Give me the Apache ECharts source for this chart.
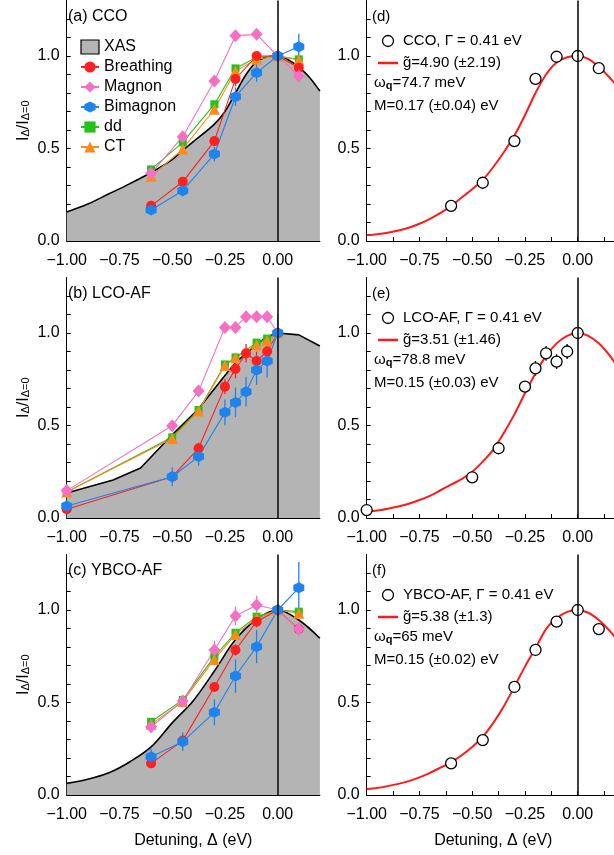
<!DOCTYPE html>
<html><head><meta charset="utf-8">
<script src="https://cdn.jsdelivr.net/npm/echarts@6/dist/echarts.min.js"></script>
<style>html,body{margin:0;padding:0;background:#fff}#c{width:614px;height:855px}</style>
</head><body><div id="c"></div>
<script>
// ================= DATA =================
const xTickValues = [-1, -0.875, -0.75, -0.625, -0.5, -0.375, -0.25, -0.125, 0, 0.125];
const xLabelValues = [-1, -0.75, -0.5, -0.25, 0];
const yTickValues = [0, 0.1, 0.2, 0.3, 0.4, 0.5, 0.6, 0.7, 0.8, 0.9, 1.0, 1.1, 1.2];
const yLabelValues = [0, 0.5, 1.0];
const xTitle = 'Detuning, Δ (eV)';

// (a) CCO
const a_x = [-0.6, -0.45, -0.3, -0.2, -0.1, 0, 0.1];
const a_breathing = [0.19, 0.32, 0.54, 0.876, 1.0, 1.0, 0.937];
const a_breathing_err = [0.02, 0.02, 0.02, 0.04, 0.02, 0, 0.02];
const a_magnon = [0.366, 0.564, 0.865, 1.11, 1.117, 1.0, 0.892];
const a_magnon_err = [0.02, 0.02, 0.02, 0.02, 0.02, 0, 0.02];
const a_bimagnon = [0.168, 0.272, 0.47, 0.78, 0.91, 1.0, 1.05];
const a_bimagnon_err = [0.02, 0.03, 0.04, 0.05, 0.05, 0, 0.07];
const a_dd = [0.387, 0.533, 0.739, 0.933, 0.993, 1.0, 0.982];
const a_ct = [0.35, 0.497, 0.712, 0.919, 0.982, 1.0, 0.978];
const a_xas_x = [-1, -0.9, -0.8, -0.7, -0.6, -0.5, -0.45, -0.4, -0.3, -0.25, -0.2, -0.15, -0.1, -0.05, 0, 0.05, 0.1, 0.15, 0.2];
const a_xas = [0.157, 0.20, 0.255, 0.31, 0.37, 0.44, 0.49, 0.537, 0.632, 0.70, 0.80, 0.90, 0.97, 0.995, 1.0, 0.98, 0.94, 0.885, 0.81];

// (b) LCO-AF
const b_x = [-1, -0.5, -0.375, -0.25, -0.2, -0.15, -0.1, -0.05, 0];
const b_x2 = [-1, -0.5, -0.375, -0.25, -0.2, -0.1, -0.05, 0];
const b_breathing = [0.047, 0.223, 0.377, 0.71, 0.805, 0.89, 0.849, 0.90, 1.0];
const b_breathing_err = [0.01, 0.03, 0.03, 0.04, 0.05, 0.05, 0.05, 0.05, 0];
const b_magnon = [0.148, 0.499, 0.686, 1.03, 1.03, 1.088, 1.088, 1.088, 1.0];
const b_magnon_err = [0.02, 0.02, 0.02, 0.03, 0.03, 0.03, 0.03, 0.03, 0];
const b_bimagnon = [0.065, 0.223, 0.332, 0.571, 0.625, 0.683, 0.80, 0.849, 1.0];
const b_bimagnon_err = [0.02, 0.05, 0.05, 0.07, 0.08, 0.08, 0.08, 0.09, 0.1];
const b_dd = [0.14, 0.436, 0.584, 0.83, 0.868, 0.948, 0.97, 1.0];
const b_ct = [0.14, 0.43, 0.578, 0.825, 0.866, 0.935, 0.958, 1.0];
const b_xas_x = [-1, -0.78, -0.65, -0.5, -0.375, -0.25, -0.2, -0.15, -0.1, -0.05, 0, 0.1, 0.2];
const b_xas = [0.135, 0.205, 0.27, 0.45, 0.59, 0.77, 0.84, 0.89, 0.94, 0.98, 1.0, 0.99, 0.93];

// (c) YBCO-AF
const c_x = [-0.6, -0.45, -0.3, -0.2, -0.1, 0, 0.1];
const c_breathing = [0.171, 0.294, 0.584, 0.784, 0.937, 1.0, 0.897];
const c_breathing_err = [0.02, 0.02, 0.02, 0.03, 0.03, 0, 0.02];
const c_magnon = [0.369, 0.508, 0.784, 0.968, 1.027, 1.0, 0.897];
const c_magnon_err = [0.03, 0.03, 0.05, 0.05, 0.05, 0, 0.04];
const c_bimagnon = [0.207, 0.288, 0.447, 0.643, 0.802, 1.0, 1.12];
const c_bimagnon_err = [0.04, 0.05, 0.07, 0.09, 0.09, 0, 0.14];
const c_dd = [0.396, 0.514, 0.748, 0.877, 0.964, 1.0, 0.991];
const c_ct = [0.382, 0.506, 0.733, 0.868, 0.955, 1.0, 0.982];
const c_xas_x = [-1, -0.9, -0.8, -0.7, -0.6, -0.5, -0.4, -0.3, -0.2, -0.1, 0, 0.1, 0.2];
const c_xas = [0.063, 0.085, 0.12, 0.18, 0.26, 0.39, 0.51, 0.67, 0.84, 0.95, 1.0, 0.946, 0.847];

// (d)(e)(f) fitted curves, read every 0.05 eV
const fit_x = [-1, -0.95, -0.9, -0.85, -0.8, -0.75, -0.7, -0.65, -0.6, -0.55, -0.5, -0.45, -0.4, -0.35, -0.3, -0.25, -0.2, -0.15, -0.1, -0.05, 0, 0.05, 0.1, 0.15, 0.2];
const d_fit = [0.032, 0.037, 0.045, 0.057, 0.072, 0.093, 0.12, 0.152, 0.19, 0.235, 0.28, 0.33, 0.40, 0.48, 0.57, 0.68, 0.80, 0.90, 0.965, 0.993, 1.0, 0.985, 0.942, 0.885, 0.82];
const e_fit = [0.034, 0.04, 0.05, 0.062, 0.077, 0.097, 0.12, 0.15, 0.18, 0.21, 0.25, 0.305, 0.37, 0.46, 0.56, 0.674, 0.782, 0.876, 0.944, 0.985, 1.0, 0.985, 0.944, 0.88, 0.80];
const f_fit = [0.032, 0.038, 0.048, 0.06, 0.075, 0.095, 0.12, 0.148, 0.177, 0.215, 0.26, 0.315, 0.39, 0.48, 0.585, 0.694, 0.793, 0.897, 0.955, 0.99, 1.0, 0.985, 0.946, 0.89, 0.82];
const d_x = [-0.6, -0.45, -0.3, -0.2, -0.1, 0, 0.1];
const d_y = [0.19, 0.315, 0.54, 0.876, 0.996, 1.0, 0.934];
const d_err = [0.015, 0.015, 0.02, 0.03, 0.03, 0.01, 0.02];
const e_x = [-1, -0.5, -0.375, -0.25, -0.2, -0.15, -0.1, -0.05, 0];
const e_y = [0.043, 0.22, 0.377, 0.71, 0.809, 0.89, 0.845, 0.90, 1.0];
const e_err = [0.01, 0.03, 0.03, 0.03, 0.04, 0.04, 0.04, 0.04, 0.01];
const f_x = [-0.6, -0.45, -0.3, -0.2, -0.1, 0, 0.1];
const f_y = [0.171, 0.297, 0.584, 0.784, 0.937, 1.0, 0.897];
const f_err = [0.015, 0.015, 0.02, 0.02, 0.03, 0.01, 0.02];

const panelLabels = ['(a) CCO', '(b) LCO-AF', '(c) YBCO-AF', '(d)', '(e)', '(f)'];
const ptsNames = ['CCO, Γ = 0.41 eV', 'LCO-AF, Γ = 0.41 eV', 'YBCO-AF, Γ = 0.41 eV'];
const fitNames = ['g\u0303=4.90 (±2.19)', 'g\u0303=3.51 (±1.46)', 'g\u0303=5.38 (±1.3)'];
const omegaVals = ['=74.7 meV', '=78.8 meV', '=65 meV'];
const mVals = ['M=0.17 (±0.04) eV', 'M=0.15 (±0.03) eV', 'M=0.15 (±0.02) eV'];

// ================= STYLE / LAYOUT =================
const FONT = "'Liberation Sans', Arial, Helvetica, sans-serif";
const COL = {Breathing: '#ff1f1f', Magnon: '#f570c2', Bimagnon: '#1d84ee', dd: '#22c41a', CT: '#ff8a1c'};
const HEX = 'path://M0,-1 L0.866,-0.5 L0.866,0.5 L0,1 L-0.866,0.5 L-0.866,-0.5 Z';
const SYM = {Breathing: ['circle', 10], Magnon: ['diamond', [12, 13]], Bimagnon: [HEX, 11], dd: ['rect', 8], CT: ['triangle', 11]};
const LEFTS = [66.7, 366.7], W = 253.2, TOPS = [0.5, 277.5, 554.5], H = 240.5;

const leftData = [
  {xas_x: a_xas_x, xas: a_xas, smooth: 0.35, x: a_x, x2: a_x,
   Breathing: [a_breathing, a_breathing_err], Magnon: [a_magnon, a_magnon_err], Bimagnon: [a_bimagnon, a_bimagnon_err], dd: [a_dd, null], CT: [a_ct, null]},
  {xas_x: b_xas_x, xas: b_xas, smooth: false, x: b_x, x2: b_x2,
   Breathing: [b_breathing, b_breathing_err], Magnon: [b_magnon, b_magnon_err], Bimagnon: [b_bimagnon, b_bimagnon_err], dd: [b_dd, null], CT: [b_ct, null]},
  {xas_x: c_xas_x, xas: c_xas, smooth: 0.35, x: c_x, x2: c_x,
   Breathing: [c_breathing, c_breathing_err], Magnon: [c_magnon, c_magnon_err], Bimagnon: [c_bimagnon, c_bimagnon_err], dd: [c_dd, null], CT: [c_ct, null]}
];
const rightData = [
  {fit: d_fit, x: d_x, y: d_y, err: d_err},
  {fit: e_fit, x: e_x, y: e_y, err: e_err},
  {fit: f_fit, x: f_x, y: f_y, err: f_err}
];

const pairs = (xs, ys) => xs.map((x, i) => [x, ys[i]]);
const triples = (xs, ys, es) => xs.map((x, i) => [x, ys[i], es[i]]);
const fmtX = v => (v < 0 ? '\u2212' : '') + Math.abs(v).toFixed(2);
const fmtY = v => v.toFixed(1);

const grids = [], xAxes = [], yAxes = [], series = [], legends = [], graphics = [];

function zeroLine() {
  return {silent: true, symbol: ['none', 'none'], label: {show: false}, animation: false,
    lineStyle: {color: '#111', width: 1.6, type: 'solid'}, data: [{xAxis: 0}]};
}
function errSeries(g, data, color) {
  return {type: 'custom', coordinateSystem: 'cartesian2d', xAxisIndex: g, yAxisIndex: g, silent: true,
    encode: {x: 0, y: 1}, data: data,
    renderItem: (params, api) => {
      const x = api.value(0), y = api.value(1), e = api.value(2);
      if (!e) return null;
      const p1 = api.coord([x, y - e]), p2 = api.coord([x, y + e]);
      return {type: 'line', shape: {x1: p1[0], y1: p1[1], x2: p2[0], y2: p2[1]}, style: {stroke: color, lineWidth: 1.3}};
    }};
}

for (let row = 0; row < 3; row++) {
  for (let col = 0; col < 2; col++) {
    const g = row * 2 + col;
    grids.push({left: LEFTS[col], top: TOPS[row], width: W, height: H, outerBoundsMode: 'none', containLabel: false});
    xAxes.push({type: 'value', gridIndex: g, min: -1, max: 0.2, interval: 0.125,
      axisLine: {show: true, onZero: false, lineStyle: {color: '#000', width: 1}},
      axisTick: {show: true, inside: true, length: 4, customValues: xTickValues, lineStyle: {color: '#000', width: 1}},
      axisLabel: {show: true, customValues: xLabelValues, formatter: fmtX, fontSize: 16, fontFamily: FONT, color: '#000', margin: 12},
      splitLine: {show: false}, minorTick: {show: false},
      name: row === 2 ? xTitle : '', nameLocation: 'middle', nameGap: 38,
      nameTextStyle: {fontSize: 16, fontFamily: FONT, color: '#000'}});
    yAxes.push({type: 'value', gridIndex: g, min: 0, max: 1.3, interval: 0.1,
      axisLine: {show: true, onZero: false, lineStyle: {color: '#000', width: 1}},
      axisTick: {show: true, inside: true, length: 4, customValues: yTickValues, lineStyle: {color: '#000', width: 1}},
      axisLabel: {show: true, customValues: yLabelValues, formatter: fmtY, fontSize: 16, fontFamily: FONT, color: '#000', margin: 7},
      splitLine: {show: false},
      name: col === 0 ? '{i|I}{s|Δ}{i|/I}{s|Δ=0}' : '', nameLocation: 'middle', nameRotate: 90, nameGap: 35,
      nameTextStyle: {fontFamily: FONT, color: '#000', rich: {
        i: {fontSize: 16, lineHeight: 16, verticalAlign: 'top', fontFamily: FONT, color: '#000'},
        s: {fontSize: 11, lineHeight: 11, padding: [9, 0, 0, 0], verticalAlign: 'bottom', fontFamily: FONT, color: '#000'}}}});

    if (col === 0) {
      const d = leftData[row];
      series.push({name: 'XAS', type: 'line', xAxisIndex: g, yAxisIndex: g, data: pairs(d.xas_x, d.xas),
        smooth: d.smooth, symbol: 'none', lineStyle: {color: '#000', width: 1.6},
        itemStyle: {color: '#b4b4b4', borderColor: '#000'},
        areaStyle: {color: '#b4b4b4', opacity: 1}, markLine: zeroLine(), z: 1});
      ['dd', 'CT', 'Breathing', 'Magnon', 'Bimagnon'].forEach(nm => {
        const xs = (nm === 'dd' || nm === 'CT') ? d.x2 : d.x;
        const [ys, es] = d[nm];
        if (es) series.push(errSeries(g, triples(xs, ys, es), COL[nm]));
        series.push({name: nm, type: 'line', xAxisIndex: g, yAxisIndex: g, data: pairs(xs, ys),
          symbol: SYM[nm][0], symbolSize: SYM[nm][1], showSymbol: true,
          itemStyle: {color: COL[nm]}, lineStyle: {color: COL[nm], width: 1.1}, z: 3});
      });
      graphics.push({type: 'text', left: 68, top: TOPS[row] + 8,
        style: {text: panelLabels[row], font: '16px ' + FONT, fill: '#000'}});
    } else {
      const d = rightData[row];
      series.push({name: fitNames[row], type: 'line', xAxisIndex: g, yAxisIndex: g, data: pairs(fit_x, d.fit),
        smooth: 0.3, symbol: 'none', lineStyle: {color: '#ff1a1a', width: 2}, itemStyle: {color: '#ff1a1a'},
        markLine: zeroLine(), z: 2});
      series.push(errSeries(g, triples(d.x, d.y, d.err), '#000'));
      series.push({name: ptsNames[row], type: 'scatter', xAxisIndex: g, yAxisIndex: g, data: pairs(d.x, d.y),
        symbol: 'circle', symbolSize: 11, itemStyle: {color: '#fff', borderColor: '#000', borderWidth: 1.3, opacity: 1}, z: 3});
      legends.push({show: true, orient: 'vertical', left: 373, top: TOPS[row] + 28, itemWidth: 20, itemHeight: 11, itemGap: 7,
        selectedMode: false, textStyle: {fontSize: 15, fontFamily: FONT, color: '#000'},
        data: [{name: ptsNames[row], icon: 'circle', itemStyle: {color: '#fff', borderColor: '#000', borderWidth: 1.3}},
               {name: fitNames[row], icon: 'path://M0,0 H16 V2 H0 Z', itemStyle: {color: '#ff1a1a'}}]});
      graphics.push({type: 'text', left: 372, top: TOPS[row] + 9,
        style: {text: panelLabels[3 + row], font: '15px ' + FONT, fill: '#000'}});
      graphics.push({type: 'text', left: 374, top: TOPS[row] + 72,
        style: {text: '{w|ω}{q|q}{w|' + omegaVals[row] + '}', rich: {
          w: {fontSize: 15, lineHeight: 16, verticalAlign: 'top', fontFamily: FONT, fill: '#000'},
          q: {fontSize: 11, lineHeight: 11, fontWeight: 'bold', padding: [8, 0, 0, 0], verticalAlign: 'bottom', fontFamily: FONT, fill: '#000'}}}});
      graphics.push({type: 'text', left: 374, top: TOPS[row] + 98,
        style: {text: mVals[row], font: '15px ' + FONT, fill: '#000'}});
    }
  }
}

legends.unshift({show: true, orient: 'vertical', left: 75, top: 34, itemWidth: 18, itemHeight: 14, itemGap: 4,
  selectedMode: false, textStyle: {fontSize: 16, fontFamily: FONT, color: '#000'},
  data: [{name: 'XAS', icon: 'rect', itemStyle: {color: '#b4b4b4', borderColor: '#000', borderWidth: 1.2}},
         'Breathing', 'Magnon', 'Bimagnon', 'dd', 'CT']});

const chart = echarts.init(document.getElementById('c'), null, {renderer: 'canvas', width: 614, height: 855});
chart.setOption({
  animation: false, backgroundColor: '#fff',
  textStyle: {fontFamily: FONT},
  grid: grids, xAxis: xAxes, yAxis: yAxes, series: series, legend: legends, graphic: graphics
});
</script></body></html>
